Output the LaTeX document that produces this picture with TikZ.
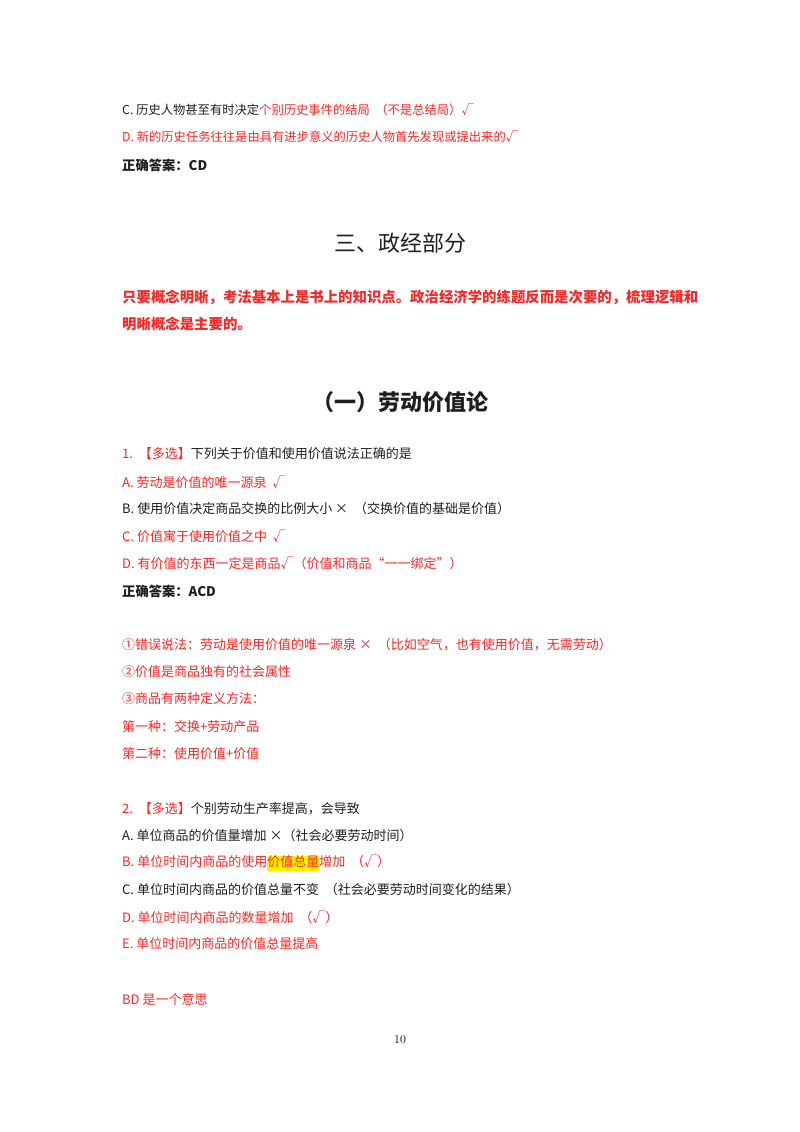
\documentclass[tikz,border=0pt]{standalone}
\usepackage{fontspec}
\setmainfont{Noto Sans CJK SC}
\newfontfamily\pagefont{Latin Modern Roman}
\definecolor{rd}{RGB}{245,40,40}
\definecolor{tx}{RGB}{30,30,30}
\definecolor{hl}{RGB}{255,240,0}
\begin{document}
\begin{tikzpicture}[x=1pt,y=-1pt,
  ln/.style={anchor=west,inner sep=0pt,font=\fontsize{13}{15}\selectfont,text=tx},
  rl/.style={ln,text=rd},
  bp/.style={rl,font=\fontsize{14.4}{16}\selectfont\bfseries},
  hd/.style={anchor=center,inner sep=0pt,font=\fontsize{22}{26}\selectfont,text=tx}]
\useasboundingbox[fill=white] (0,0) rectangle (800,1132);
\node[ln,font=\fontsize{12.3}{14}\selectfont] (c1) at (122,110) {C.\ 历史人物甚至有时决定\textcolor{rd}{个别历史事件的结局\ \ （不是总结局）√}};
\node[rl,font=\fontsize{12.3}{14}\selectfont] (d1) at (122,137) {D.\ 新的历史任务往往是由具有进步意义的历史人物首先发现或提出来的√};
\node[ln,font=\fontsize{13.3}{15}\selectfont\bfseries] (a0) at (122,165) {正确答案：CD};
\node[hd] (t1) at (400,243) {三、政经部分};
\node[bp] (p1) at (122,297) {只要概念明晰，考法基本上是书上的知识点。政治经济学的练题反而是次要的，梳理逻辑和};
\node[bp] (p2) at (122,324) {明晰概念是主要的。};
\node[hd] (t2) at (400,402) {\bfseries （一）劳动价值论};
\node[ln] (q1) at (122,454) {\textcolor{rd}{1.\ \ 【多选】}下列关于价值和使用价值说法正确的是};
\node[rl] (q1a) at (122,482) {A.\ 劳动是价值的唯一源泉\ \ √};
\node[ln] (q1b) at (122,509) {B.\ 使用价值决定商品交换的比例大小\ ×\ \ （交换价值的基础是价值）};
\node[rl] (q1c) at (122,536) {C.\ 价值寓于使用价值之中\ \ √};
\node[rl] (q1d) at (122,563) {D.\ 有价值的东西一定是商品√（价值和商品“一一绑定”）};
\node[ln,font=\fontsize{13.3}{15}\selectfont\bfseries] (a1) at (122,591) {正确答案：ACD};
\node[rl] (n1) at (122,645) {①错误说法：劳动是使用价值的唯一源泉\ ×\ \ （比如空气，也有使用价值，无需劳动）};
\node[rl] (n2) at (122,672) {②价值是商品独有的社会属性};
\node[rl] (n3) at (122,699) {③商品有两种定义方法：};
\node[rl] (n4) at (122,727) {第一种：交换+劳动产品};
\node[rl] (n5) at (122,754) {第二种：使用价值+价值};
\node[ln] (q2) at (122,809) {\textcolor{rd}{2.\ \ 【多选】}个别劳动生产率提高，会导致};
\node[ln] (q2a) at (122,836) {A.\ 单位商品的价值量增加\ ×（社会必要劳动时间）};
\node[rl] (q2b) at (122,863) {B.\ 单位时间内商品的使用{\fboxsep=0pt\colorbox{hl}{\strut 价值总量}}增加\ \ （√）};
\node[ln] (q2c) at (122,890) {C.\ 单位时间内商品的价值总量不变\ \ （社会必要劳动时间变化的结果）};
\node[rl] (q2d) at (122,917) {D.\ 单位时间内商品的数量增加\ \ （√）};
\node[rl] (q2e) at (122,944) {E.\ 单位时间内商品的价值总量提高};
\node[rl] (bd) at (122,999) {BD 是一个意思};
\node[anchor=center,inner sep=0pt,font=\pagefont\fontsize{12}{14}\selectfont] (pg) at (400,1040) {10};
\end{tikzpicture}
\end{document}
